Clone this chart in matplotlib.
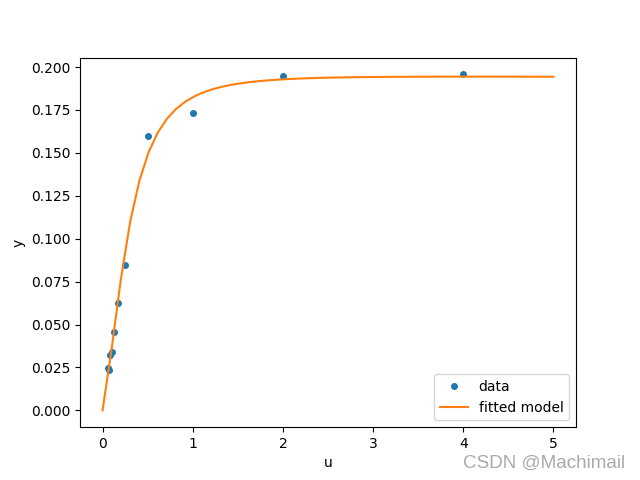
import matplotlib
matplotlib.use('Agg')
import matplotlib.pyplot as plt

# measured data points
u = [4.0, 2.0, 1.0, 0.5, 0.25, 0.167, 0.125, 0.1, 0.0833, 0.0714, 0.0625]
y = [0.1957, 0.1947, 0.1735, 0.1600, 0.0844, 0.0627, 0.0456, 0.0342, 0.0323, 0.0235, 0.0246]

# fitted model curve (50 samples over 0..5)
u_test = [0.0, 0.102, 0.204, 0.306, 0.408, 0.510, 0.612, 0.714, 0.816, 0.918,
          1.020, 1.122, 1.224, 1.327, 1.429, 1.531, 1.633, 1.735, 1.837, 1.939,
          2.041, 2.143, 2.245, 2.347, 2.449, 2.551, 2.653, 2.755, 2.857, 2.959,
          3.061, 3.163, 3.265, 3.367, 3.469, 3.571, 3.673, 3.776, 3.878, 3.980,
          4.082, 4.184, 4.286, 4.388, 4.490, 4.592, 4.694, 4.796, 4.898, 5.0]
y_test = [0.0, 0.03628, 0.07668, 0.10975, 0.13366, 0.15027, 0.16177, 0.16985, 0.17563, 0.17984,
          0.18296, 0.18532, 0.18712, 0.18853, 0.18963, 0.19051, 0.19121, 0.19178, 0.19224, 0.19262,
          0.19293, 0.19319, 0.19340, 0.19358, 0.19373, 0.19385, 0.19396, 0.19404, 0.19411, 0.19417,
          0.19422, 0.19426, 0.19429, 0.19432, 0.19434, 0.19436, 0.19437, 0.19438, 0.19438, 0.19439,
          0.19439, 0.19439, 0.19439, 0.19438, 0.19438, 0.19437, 0.19436, 0.19435, 0.19435, 0.19434]

fig = plt.figure(figsize=(6.4, 4.8), dpi=100)
plt.plot(u, y, 'o', markersize=4, label='data')
plt.plot(u_test, y_test, label='fitted model')
plt.xlabel("u")
plt.ylabel("y")
plt.legend(loc='lower right')

# watermark
fig.text(0.977, 0.035, "CSDN @Machimail", ha='right', va='center',
         fontsize=13.6, color='#aaaaaa', family='Liberation Sans')

plt.savefig('out.png', dpi=100)
